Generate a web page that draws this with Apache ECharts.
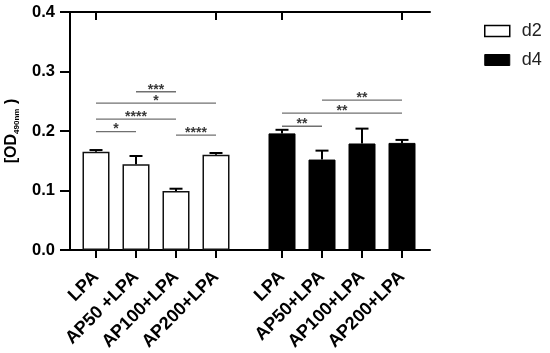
<!DOCTYPE html>
<html>
<head>
<meta charset="utf-8">
<script src="https://cdn.jsdelivr.net/npm/echarts@6/dist/echarts.min.js"></script>
<style>
html,body{margin:0;padding:0;background:#fff;}
#c{width:550px;height:353px;}
</style>
</head>
<body>
<div id="c"></div>
<script>
// ---- data ----
const categoriesD2 = ['LPA', 'AP50 +LPA', 'AP100+LPA', 'AP200+LPA'];
const categoriesD4 = ['LPA', 'AP50+LPA', 'AP100+LPA', 'AP200+LPA'];
const meanD2 = [0.165, 0.144, 0.099, 0.160];
const sdD2 = [0.003, 0.014, 0.004, 0.003];
const meanD4 = [0.196, 0.152, 0.179, 0.180];
const sdD4 = [0.006, 0.015, 0.025, 0.005];
const yMin = 0, yMax = 0.4, yStep = 0.1;
// significance brackets: [fromIndex, toIndex, height]
const sigD2 = [[1, 2, 0.266], [0, 3, 0.247], [0, 2, 0.220], [0, 1, 0.199], [2, 3, 0.193]];
const sigD2Labels = ['***', '*', '****', '*', '****'];
const sigD4 = [[1, 3, 0.252], [0, 3, 0.230], [0, 1, 0.208]];
const sigD4Labels = ['**', '**', '**'];
const seriesNames = ['d2', 'd4'];
const yTitle = '{b|[OD}{s|490nm}{b| )}';

const FONT = 'Liberation Sans, Arial, sans-serif';
const chart = echarts.init(document.getElementById('c'), null, {renderer: 'canvas'});

const gridBase = {top: 12, bottom: 103, containLabel: false, outerBoundsMode: 'none'};

function errRender(params, api) {
  const i = api.value(0), m = api.value(1), e = api.value(2);
  const p0 = api.coord([i, m]);
  const p1 = api.coord([i, m + e]);
  const hw = 6.5;
  return {
    type: 'group',
    children: [
      {type: 'line', shape: {x1: p0[0], y1: p0[1], x2: p1[0], y2: p1[1]}, style: {stroke: '#000', lineWidth: 2}},
      {type: 'line', shape: {x1: p1[0] - hw, y1: p1[1], x2: p1[0] + hw, y2: p1[1]}, style: {stroke: '#000', lineWidth: 2}}
    ]
  };
}
function sigRender(labels) {
  return function (params, api) {
    const a = api.coord([api.value(0), api.value(2)]);
    const b = api.coord([api.value(1), api.value(2)]);
    return {
      type: 'group',
      children: [
        {type: 'line', shape: {x1: a[0], y1: a[1], x2: b[0], y2: b[1]}, style: {stroke: '#707070', lineWidth: 1.3}},
        {type: 'text', x: (a[0] + b[0]) / 2, y: a[1] - 2,
         style: {text: labels[params.dataIndex], fontSize: 14, fontWeight: 'bold', fontFamily: FONT, fill: '#3a3a3a', align: 'center', verticalAlign: 'middle'}}
      ]
    };
  };
}

const hiddenY = (gi) => ({gridIndex: gi, type: 'value', min: yMin, max: yMax, interval: yStep, show: false});
const catX = (gi, cats) => ({
  gridIndex: gi, type: 'category', data: cats, position: 'bottom',
  axisLine: {show: false, onZero: false},
  axisTick: {show: true, alignWithLabel: true, length: 8, lineStyle: {color: '#000', width: 2}},
  axisLabel: {rotate: 45, margin: 24, fontSize: 18, fontWeight: 'bold', fontFamily: FONT, color: '#000', interval: 0},
  splitLine: {show: false}
});
const catXTop = (gi, cats) => ({
  gridIndex: gi, type: 'category', data: cats, position: 'top',
  axisLine: {show: false, onZero: false},
  axisTick: {show: true, inside: true, alignWithLabel: true, length: 8, lineStyle: {color: '#000', width: 2}},
  axisLabel: {show: false},
  splitLine: {show: false}
});

const option = {
  backgroundColor: '#fff',
  animation: false,
  grid: [
    Object.assign({left: 70, right: 120}, gridBase),
    Object.assign({left: 76, width: 160}, gridBase),
    Object.assign({left: 262, width: 160}, gridBase)
  ],
  legend: {
    orient: 'vertical', left: 484, top: 22, padding: 0, itemWidth: 25, itemHeight: 11, itemGap: 11,
    textStyle: {fontSize: 18, fontFamily: FONT, color: '#222', padding: [0, 0, 0, 7]},
    data: [
      {name: seriesNames[0], icon: 'rect', itemStyle: {color: '#fff', borderColor: '#000', borderWidth: 1.5}},
      {name: seriesNames[1], icon: 'rect', itemStyle: {color: '#000', borderColor: '#000', borderWidth: 1}}
    ]
  },
  xAxis: [
    {gridIndex: 0, type: 'value', min: 0, max: 1, position: 'bottom',
     axisLine: {show: true, onZero: false, lineStyle: {color: '#000', width: 2}},
     axisTick: {show: false}, axisLabel: {show: false}, splitLine: {show: false}},
    {gridIndex: 0, type: 'value', min: 0, max: 1, position: 'top',
     axisLine: {show: true, onZero: false, lineStyle: {color: '#000', width: 2}},
     axisTick: {show: false}, axisLabel: {show: false}, splitLine: {show: false}},
    catX(1, categoriesD2), catXTop(1, categoriesD2),
    catX(2, categoriesD4), catXTop(2, categoriesD4)
  ],
  yAxis: [
    {gridIndex: 0, type: 'value', min: yMin, max: yMax, interval: yStep, position: 'left',
     name: yTitle, nameLocation: 'middle', nameRotate: 90, nameGap: 50,
     nameTextStyle: {rich: {
       b: {fontSize: 16, fontWeight: 'bold', fontFamily: FONT, color: '#000'},
       s: {fontSize: 8, fontWeight: 'bold', fontFamily: FONT, color: '#000', verticalAlign: 'bottom', padding: [0, 0, -1, 0]}
     }},
     axisLine: {show: true, lineStyle: {color: '#000', width: 2}},
     axisTick: {show: true, length: 10, lineStyle: {color: '#000', width: 2}},
     axisLabel: {margin: 15, fontSize: 16.5, fontWeight: 'bold', fontFamily: FONT, color: '#000',
                 formatter: v => v.toFixed(1)},
     splitLine: {show: false}},
    {gridIndex: 0, type: 'value', min: yMin, max: yMax, interval: yStep, position: 'right',
     axisLine: {show: true, lineStyle: {color: '#000', width: 2}},
     axisTick: {show: true, inside: true, length: 10, lineStyle: {color: '#000', width: 2}},
     axisLabel: {show: false}, splitLine: {show: false}},
    hiddenY(1), hiddenY(2)
  ],
  series: [
    {name: seriesNames[0], type: 'bar', xAxisIndex: 2, yAxisIndex: 2, data: meanD2, barWidth: 27,
     itemStyle: {color: '#fff', borderColor: '#111', borderWidth: 1.5}},
    {name: seriesNames[1], type: 'bar', xAxisIndex: 4, yAxisIndex: 3, data: meanD4, barWidth: 27,
     itemStyle: {color: '#000', borderColor: '#000', borderWidth: 1}},
    {type: 'custom', xAxisIndex: 2, yAxisIndex: 2, z: 5, renderItem: errRender,
     data: meanD2.map((m, i) => [i, m, sdD2[i]])},
    {type: 'custom', xAxisIndex: 4, yAxisIndex: 3, z: 5, renderItem: errRender,
     data: meanD4.map((m, i) => [i, m, sdD4[i]])},
    {type: 'custom', xAxisIndex: 2, yAxisIndex: 2, z: 5, renderItem: sigRender(sigD2Labels),
     encode: {x: [0, 1], y: 2}, data: sigD2},
    {type: 'custom', xAxisIndex: 4, yAxisIndex: 3, z: 5, renderItem: sigRender(sigD4Labels),
     encode: {x: [0, 1], y: 2}, data: sigD4}
  ]
};
chart.setOption(option);
</script>
</body>
</html>
